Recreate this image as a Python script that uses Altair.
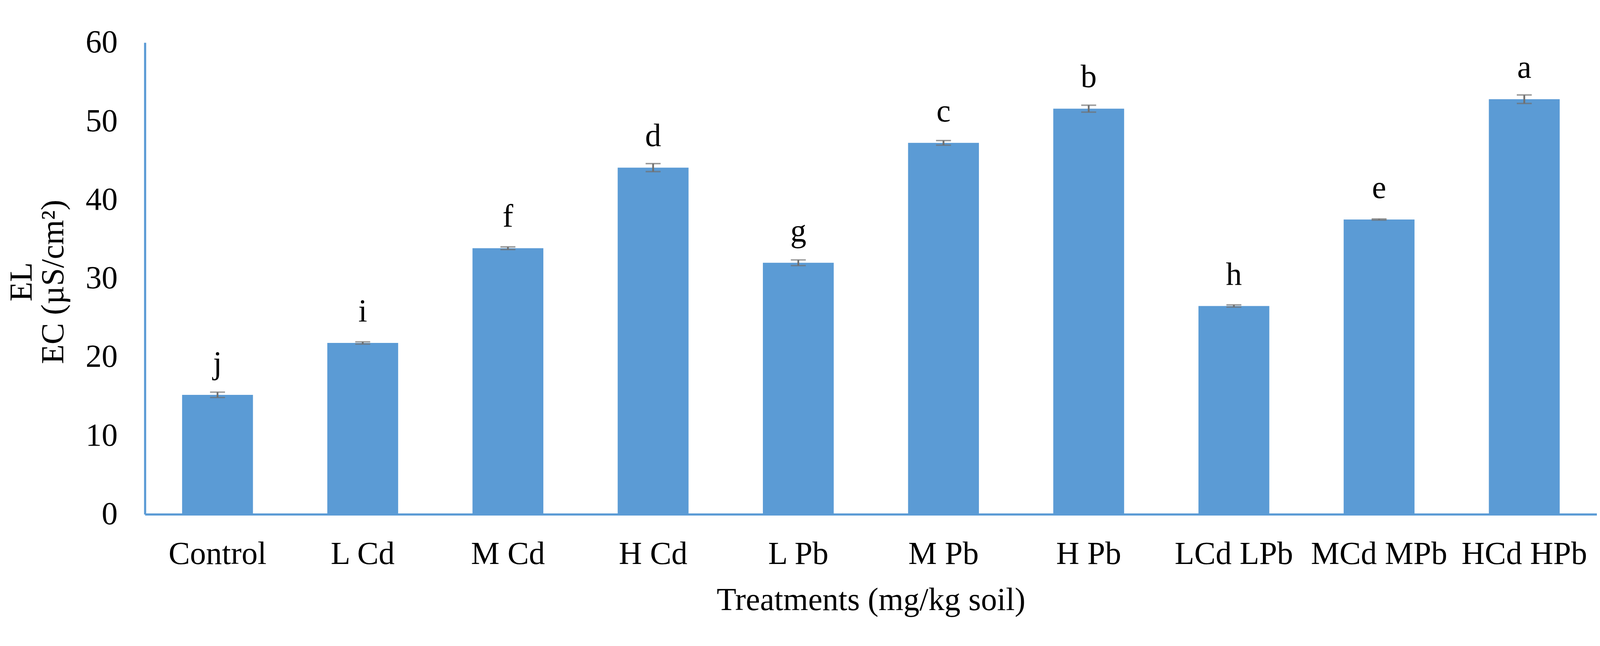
import altair as alt
import pandas as pd

treatments = ["Control", "L Cd", "M Cd", "H Cd", "L Pb", "M Pb", "H Pb",
              "LCd LPb", "MCd MPb", "HCd HPb"]
ec_values = [15.2, 21.8, 33.85, 44.1, 32.0, 47.25, 51.6, 26.5, 37.5, 52.8]
ec_errors = [0.34, 0.14, 0.17, 0.51, 0.36, 0.29, 0.44, 0.14, 0.07, 0.54]
letters = ["j", "i", "f", "d", "g", "c", "b", "h", "e", "a"]

df = pd.DataFrame({
    "Treatment": treatments,
    "EC": ec_values,
    "err": ec_errors,
    "letter": letters,
})
df["lo"] = df["EC"] - df["err"]
df["hi"] = df["EC"] + df["err"]

FONT = "Liberation Serif"
BLUE = "#5B9BD5"
GREY = "#707070"

x_enc = alt.X(
    "Treatment:N",
    sort=treatments,
    scale=alt.Scale(paddingInner=0.512, paddingOuter=0.256),
    axis=alt.Axis(
        title="Treatments (mg/kg soil)",
        labelAngle=0, labelLimit=0,
        labelFont=FONT, labelFontSize=90, labelColor="black",
        labelPadding=68, ticks=False, tickSize=0,
        domainColor=BLUE, domainWidth=6,
        titleFont=FONT, titleFontSize=90, titleFontWeight="normal", titleColor="black",
        titleBaseline="alphabetic", titleY=268,
        grid=False,
    ),
)

y_scale = alt.Scale(domain=[0, 60], nice=False)

bars = alt.Chart(df).mark_bar(color=BLUE).encode(
    x=x_enc,
    y=alt.Y(
        "EC:Q",
        scale=y_scale,
        axis=alt.Axis(
            title=["EL", "EC (µS/cm²)"],
            values=[0, 10, 20, 30, 40, 50, 60],
            labelFont=FONT, labelFontSize=90, labelColor="black",
            labelPadding=77, ticks=False, tickSize=0,
            domainColor=BLUE, domainWidth=6,
            grid=False,
            titleFont=FONT, titleFontSize=90, titleFontWeight="normal", titleColor="black",
            titleAngle=270, titleAlign="center", titleBaseline="alphabetic",
            titleLineHeight=88, titleX=-318, titleY=671,
        ),
    ),
)

stems = alt.Chart(df).mark_rule(color=GREY, strokeWidth=5).encode(
    x=alt.X("Treatment:N", sort=treatments),
    y=alt.Y("lo:Q", scale=y_scale),
    y2="hi:Q",
)

caps_lo = alt.Chart(df).mark_tick(color=GREY, thickness=4, size=42).encode(
    x=alt.X("Treatment:N", sort=treatments),
    y=alt.Y("lo:Q", scale=y_scale),
)
caps_hi = alt.Chart(df).mark_tick(color=GREY, thickness=4, size=42).encode(
    x=alt.X("Treatment:N", sort=treatments),
    y=alt.Y("hi:Q", scale=y_scale),
)

labels = alt.Chart(df).mark_text(
    font=FONT, fontSize=90, color="black", baseline="alphabetic", dy=-60
).encode(
    x=alt.X("Treatment:N", sort=treatments),
    y=alt.Y("EC:Q", scale=y_scale),
    text="letter:N",
)

chart = alt.layer(bars, stems, caps_lo, caps_hi, labels).properties(
    width=4075,
    height=1324,
    padding={"left": 398, "top": 32, "right": 0, "bottom": 282},
    autosize="none",
    background="white",
).configure_view(stroke=None)

chart.save("out.html", embed_options={"renderer": "svg", "actions": False})
